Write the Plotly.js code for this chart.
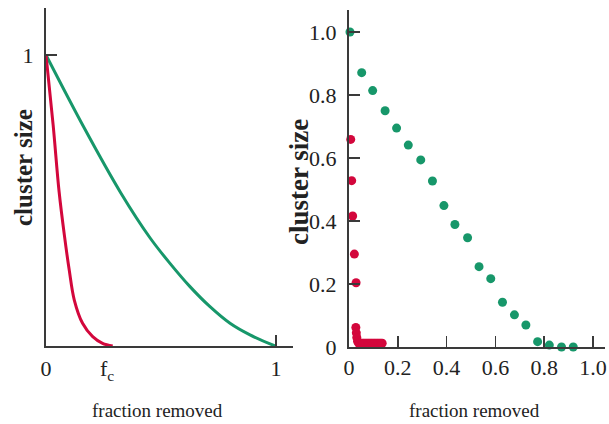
<!DOCTYPE html>
<html>
<head>
<meta charset="utf-8">
<script src="https://cdn.plot.ly/plotly-3.0.1.min.js"></script>
<style>html,body{margin:0;padding:0;background:#fff}#chart{width:609px;height:424px}</style>
</head>
<body>
<div id="chart"></div>
<script>
// ---- Left panel: analytic curves
const greenCurveX = [0, 0.167, 0.326, 0.452, 0.539, 0.626, 0.713, 0.80, 0.887, 0.988, 1.0];
const greenCurveY = [1, 0.748, 0.525, 0.372, 0.284, 0.204, 0.135, 0.078, 0.038, 0.003, 0];
const redCurveX = [0, 0.031, 0.057, 0.080, 0.101, 0.123, 0.159, 0.203, 0.246, 0.29];
const redCurveY = [1, 0.76, 0.53, 0.38, 0.261, 0.158, 0.078, 0.032, 0.009, 0];
const fcValue = 0.265;
const leftXTickVals = [0, 1];
const leftXTickText = ['0', '1'];
const leftYTickVals = [1];
const leftYTickText = ['1'];

// ---- Right panel: simulation points
const greenDotsX = [0.004, 0.052, 0.097, 0.148, 0.195, 0.243, 0.294, 0.342, 0.389, 0.434,
                    0.486, 0.533, 0.581, 0.629, 0.678, 0.725, 0.773, 0.821, 0.871, 0.919];
const greenDotsY = [1.0, 0.871, 0.814, 0.750, 0.695, 0.641, 0.594, 0.527, 0.449, 0.389,
                    0.347, 0.255, 0.217, 0.142, 0.102, 0.070, 0.017, 0.006, 0.0, 0.0];
const redDotsX = [0.007, 0.011, 0.015, 0.022, 0.029, 0.028, 0.030, 0.032, 0.035,
                  0.040, 0.046, 0.052, 0.058, 0.064, 0.070, 0.076, 0.082, 0.088, 0.094,
                  0.100, 0.106, 0.112, 0.118, 0.124, 0.130, 0.136];
const redDotsY = [0.659, 0.528, 0.416, 0.295, 0.204, 0.062, 0.045, 0.030, 0.018,
                  0.012, 0.012, 0.012, 0.012, 0.012, 0.012, 0.012, 0.012, 0.012, 0.012,
                  0.012, 0.012, 0.012, 0.012, 0.012, 0.012, 0.012];
const rightXTickVals = [0, 0.2, 0.4, 0.6, 0.8, 1.0];
const rightXTickText = ['0', '0.2', '0.4', '0.6', '0.8', '1.0'];
const rightYTickVals = [0, 0.2, 0.4, 0.6, 0.8, 1.0];
const rightYTickText = ['0', '0.2', '0.4', '0.6', '0.8', '1.0'];

const GREEN = '#17976a';
const RED = '#d3073c';
const AX = '#3a3a3a';
const FONT = 'Liberation Serif, Times New Roman, serif';

const traces = [
  {x: greenCurveX, y: greenCurveY, type: 'scatter', mode: 'lines', xaxis: 'x', yaxis: 'y',
   line: {color: GREEN, width: 3, shape: 'spline', smoothing: 1}, cliponaxis: false, hoverinfo: 'skip'},
  {x: redCurveX, y: redCurveY, type: 'scatter', mode: 'lines', xaxis: 'x', yaxis: 'y',
   line: {color: RED, width: 3, shape: 'spline', smoothing: 1}, cliponaxis: false, hoverinfo: 'skip'},
  {x: greenDotsX, y: greenDotsY, type: 'scatter', mode: 'markers', xaxis: 'x2', yaxis: 'y2',
   marker: {color: GREEN, size: 9}, cliponaxis: false},
  {x: redDotsX, y: redDotsY, type: 'scatter', mode: 'markers', xaxis: 'x2', yaxis: 'y2',
   marker: {color: RED, size: 9}, cliponaxis: false}
];

const axBase = {
  showline: true, linecolor: AX, linewidth: 2, showgrid: false, zeroline: false,
  ticks: 'inside', ticklen: 11, tickwidth: 1.5, tickcolor: AX, tickmode: 'array',
  tickfont: {family: FONT, size: 22, color: '#222'}, fixedrange: true
};

const layout = {
  width: 609, height: 424,
  margin: {l: 0, r: 0, t: 0, b: 0},
  paper_bgcolor: '#fff', plot_bgcolor: '#fff',
  showlegend: false,
  font: {family: FONT, color: '#222'},
  xaxis: Object.assign({}, axBase, {domain: [46/609, 293/609], range: [0, 247/230],
    tickvals: leftXTickVals, ticktext: leftXTickText, anchor: 'y', ticklabelstandoff: 2}),
  yaxis: Object.assign({}, axBase, {domain: [78/424, 416/424], range: [0, 338/291],
    tickvals: leftYTickVals, ticktext: leftYTickText, anchor: 'x', ticklabelstandoff: 6}),
  xaxis2: Object.assign({}, axBase, {domain: [349/609, 605/609], range: [0, 256/244],
    tickvals: rightXTickVals, ticktext: rightXTickText, anchor: 'y2', ticklabelstandoff: 0}),
  yaxis2: Object.assign({}, axBase, {domain: [77/424, 414/424], range: [0, 337/315],
    tickvals: rightYTickVals, ticktext: rightYTickText, anchor: 'x2', ticklabelstandoff: 6}),
  annotations: [
    {text: 'f<sub>c</sub>', xref: 'x', x: fcValue, yref: 'paper', y: 54/424, xanchor: 'center', yanchor: 'middle',
     showarrow: false, font: {family: FONT, size: 22, color: '#222'}},
    {text: 'fraction removed', xref: 'paper', x: 157/609, yref: 'paper', y: 14/424, xanchor: 'center', yanchor: 'middle',
     showarrow: false, font: {family: FONT, size: 19, color: '#222'}},
    {text: 'fraction removed', xref: 'paper', x: 474/609, yref: 'paper', y: 14/424, xanchor: 'center', yanchor: 'middle',
     showarrow: false, font: {family: FONT, size: 19, color: '#222'}},
    {text: '<b>cluster size</b>', xref: 'paper', x: 23/609, yref: 'paper', y: (424-168)/424, xanchor: 'center', yanchor: 'middle',
     textangle: -90, showarrow: false, font: {family: FONT, size: 25, color: '#222'}},
    {text: '<b>cluster size</b>', xref: 'paper', x: 299/609, yref: 'paper', y: (424-182)/424, xanchor: 'center', yanchor: 'middle',
     textangle: -90, showarrow: false, font: {family: FONT, size: 27, color: '#222'}}
  ]
};

Plotly.newPlot('chart', traces, layout, {staticPlot: true, displayModeBar: false});
</script>
</body>
</html>
